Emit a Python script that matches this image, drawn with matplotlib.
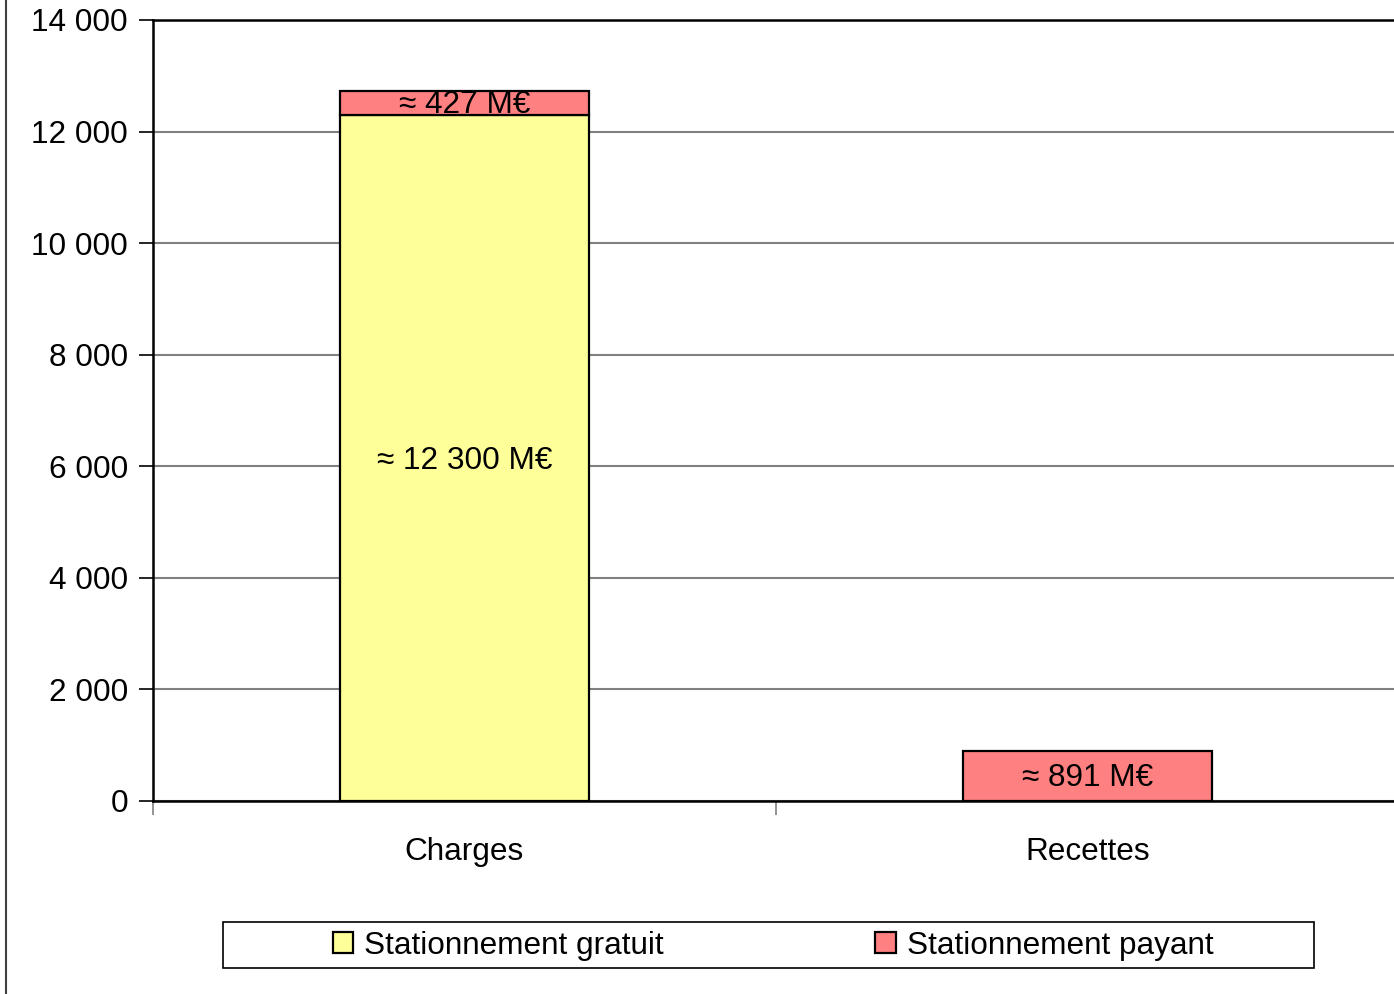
import matplotlib
matplotlib.use("Agg")
import matplotlib.pyplot as plt
import matplotlib.patches as patches
from matplotlib.lines import Line2D

plt.rcParams['font.family'] = ['Liberation Sans', 'DejaVu Sans']

categories = ['Charges', 'Recettes']
gratuit = [12300, 0]
payant = [427, 891]
labels_gratuit = ['≈ 12 300 M€', '']
labels_payant = ['≈ 427 M€', '≈ 891 M€']
series_names = ['Stationnement gratuit', 'Stationnement payant']
yticks = [0, 2000, 4000, 6000, 8000, 10000, 12000, 14000]
ytick_labels = ['0', '2 000', '4 000', '6 000', '8 000', '10 000', '12 000', '14 000']

yellow = '#FFFF99'
pink = '#FF8080'
fs = 22.7

fig = plt.figure(figsize=(13.94, 9.94), dpi=100)
# plot area runs a little past the right edge, like the source
ax = fig.add_axes([153 / 1394, 1 - 801 / 994, 1246 / 1394, 781 / 994])

x = list(range(len(categories)))
b1 = ax.bar(x, gratuit, width=0.4, color=yellow, edgecolor='black', linewidth=1.6,
            label=series_names[0], zorder=3)
b2 = ax.bar(x, payant, width=0.4, bottom=gratuit, color=pink, edgecolor='black',
            linewidth=1.6, label=series_names[1], zorder=3)

for i in x:
    if labels_gratuit[i]:
        ax.text(i, gratuit[i] / 2 - 60, labels_gratuit[i], ha='center', va='center',
                fontsize=fs, zorder=4)
    ax.text(i, gratuit[i] + payant[i] / 2 - 40, labels_payant[i], ha='center',
            va='center', fontsize=fs, zorder=4)

ax.set_xlim(-0.5, 1.5)
ax.set_ylim(0, 14000)
ax.set_yticks(yticks)
ax.set_yticklabels(ytick_labels, fontsize=fs)
ax.tick_params(axis='y', length=10, width=1.2, pad=8, color='black')

ax.set_xticks([-0.5, 0.5, 1.5])
ax.set_xticklabels([])
ax.tick_params(axis='x', which='major', length=10, width=1.2, color='#808080')
ax.set_xticks(x, minor=True)
ax.set_xticklabels(categories, minor=True, fontsize=fs)
ax.tick_params(axis='x', which='minor', length=0, pad=26)

ax.yaxis.grid(True, color='#808080', linewidth=1.5, zorder=0)
ax.set_axisbelow(True)
for side in ['left', 'top', 'bottom']:
    ax.spines[side].set_color('black')
    ax.spines[side].set_linewidth(1.8)
ax.spines['right'].set_visible(False)

# legend frame drawn separately so it can be wider than its content
frame = patches.Rectangle((223 / 1394, 1 - 968 / 994), 1091 / 1394, 46 / 994,
                          transform=fig.transFigure, facecolor='white',
                          edgecolor='black', linewidth=1.2)
fig.add_artist(frame)
fig.legend(handles=[b1, b2], labels=series_names, loc='center',
           bbox_to_anchor=(773 / 1394, 1 - 946 / 994), ncol=2, frameon=False,
           fontsize=fs, handlelength=0.65, handleheight=0.65, handletextpad=0.35,
           columnspacing=6.7)

fig.add_artist(Line2D([6 / 1394, 6 / 1394], [0, 1], transform=fig.transFigure,
                      color='#404040', linewidth=1.5))

fig.savefig('out.png', dpi=100)
